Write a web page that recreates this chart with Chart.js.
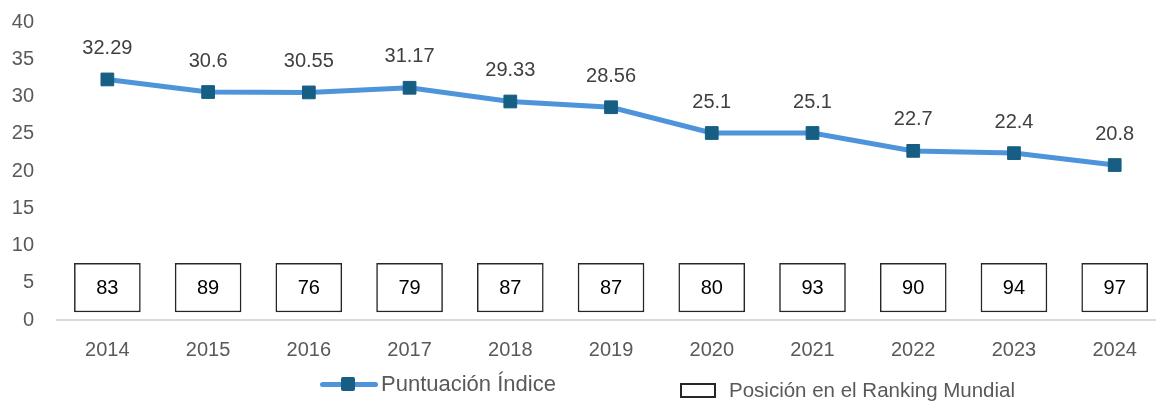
<!DOCTYPE html>
<html>
<head>
<meta charset="utf-8">
<script src="https://cdn.jsdelivr.net/npm/chart.js@4.4.1/dist/chart.umd.min.js"></script>
<style>
    html, body { margin: 0; padding: 0; background: #fff; }
    #wrap { position: relative; width: 1156px; height: 403px; overflow: hidden; }
    #chart { position: absolute; left: 0; top: 0; }
    .legend-text { position: absolute; font-family: "Liberation Sans", Arial, sans-serif; color: #595959; white-space: nowrap; line-height: 1; }
</style>
</head>
<body>
<div id="wrap">
    <canvas id="chart" width="1156" height="403"></canvas>

    <!-- legend, kept as html so the line + marker item can be drawn like the original -->
    <div style="position:absolute; left:320px; top:382px; width:58px; height:5px; border-radius:3px; background:#4D94DB;"></div>
    <div style="position:absolute; left:341px; top:377px; width:14px; height:14px; border-radius:2px; background:#165E83;"></div>
    <div class="legend-text" style="left:381px; top:373px; font-size:22px;">Puntuación Índice</div>

    <div style="position:absolute; left:680px; top:383px; width:32px; height:11px; border:2px solid #262626;"></div>
    <div class="legend-text" style="left:729px; top:380px; font-size:20.5px;">Posición en el Ranking Mundial</div>
</div>

<script>
// chart data
const years = [2014, 2015, 2016, 2017, 2018, 2019, 2020, 2021, 2022, 2023, 2024];
const scores = [32.29, 30.6, 30.55, 31.17, 29.33, 28.56, 25.1, 25.1, 22.7, 22.4, 20.8];
const ranks = [83, 89, 76, 79, 87, 87, 80, 93, 90, 94, 97];
const yTicks = [0, 5, 10, 15, 20, 25, 30, 35, 40];

// vertical band used for the ranking boxes
const boxLow = 1.07;
const boxHigh = 7.6;

const lineColor = '#4D94DB';
const markerColor = '#165E83';

// writes the score above each point and the rank inside each box
const labelPlugin = {
    id: 'valueLabels',
    afterDatasetsDraw(chart) {
        const ctx = chart.ctx;
        ctx.save();
        ctx.font = '20px "Liberation Sans", Arial, sans-serif';
        ctx.textAlign = 'center';
        ctx.textBaseline = 'middle';

        const boxMeta = chart.getDatasetMeta(1);
        ctx.fillStyle = '#000';
        boxMeta.data.forEach((bar, i) => {
            ctx.fillText(String(ranks[i]), bar.x, (bar.y + bar.base) / 2 + 1);
        });

        const lineMeta = chart.getDatasetMeta(0);
        ctx.fillStyle = '#404040';
        lineMeta.data.forEach((pt, i) => {
            ctx.fillText(String(scores[i]), pt.x, pt.y - 31);
        });
        ctx.restore();
    }
};

const ctx = document.getElementById('chart').getContext('2d');

new Chart(ctx, {
    data: {
        datasets: [
            {
                type: 'line',
                label: 'Puntuación Índice',
                data: years.map((y, i) => ({ x: y, y: scores[i] })),
                borderColor: lineColor,
                borderWidth: 5,
                pointStyle: 'rect',
                pointRadius: 9,
                pointBackgroundColor: markerColor,
                pointBorderColor: markerColor,
                pointBorderWidth: 1,
                tension: 0,
                clip: false,
                order: 0
            },
            {
                type: 'bar',
                label: 'Posición en el Ranking Mundial',
                data: years.map(y => ({ x: y, y: [boxLow, boxHigh] })),
                backgroundColor: '#ffffff',
                borderColor: '#262626',
                borderWidth: 1.5,
                borderSkipped: false,
                barThickness: 66,
                order: 1
            }
        ]
    },
    options: {
        responsive: false,
        animation: false,
        layout: { autoPadding: false, padding: { top: 22, bottom: 33, left: 0, right: 0 } },
        plugins: {
            legend: { display: false },
            tooltip: { enabled: false }
        },
        scales: {
            x: {
                type: 'linear',
                min: 2013.5,
                max: 2024.41,
                offset: false,
                grid: { display: false, drawTicks: false },
                border: { display: true, color: '#d9d9d9', width: 2 },
                afterFit: scale => {
                    scale.height = 50;
                    scale.paddingLeft = 0;
                    scale.paddingRight = 0;
                },
                afterBuildTicks: scale => {
                    scale.ticks = years.map(v => ({ value: v }));
                },
                ticks: {
                    padding: 18,
                    color: '#595959',
                    font: { size: 20, family: '"Liberation Sans", Arial, sans-serif' },
                    callback: v => String(v)
                }
            },
            y: {
                min: 0,
                max: 40,
                grid: { display: false, drawTicks: false },
                border: { display: false },
                afterFit: scale => {
                    scale.width = 57;
                    scale.paddingTop = 0;
                    scale.paddingBottom = 0;
                },
                afterBuildTicks: scale => {
                    scale.ticks = yTicks.map(v => ({ value: v }));
                },
                ticks: {
                    padding: 23,
                    color: '#595959',
                    font: { size: 20, family: '"Liberation Sans", Arial, sans-serif' }
                }
            }
        }
    },
    plugins: [labelPlugin]
});
</script>
</body>
</html>
